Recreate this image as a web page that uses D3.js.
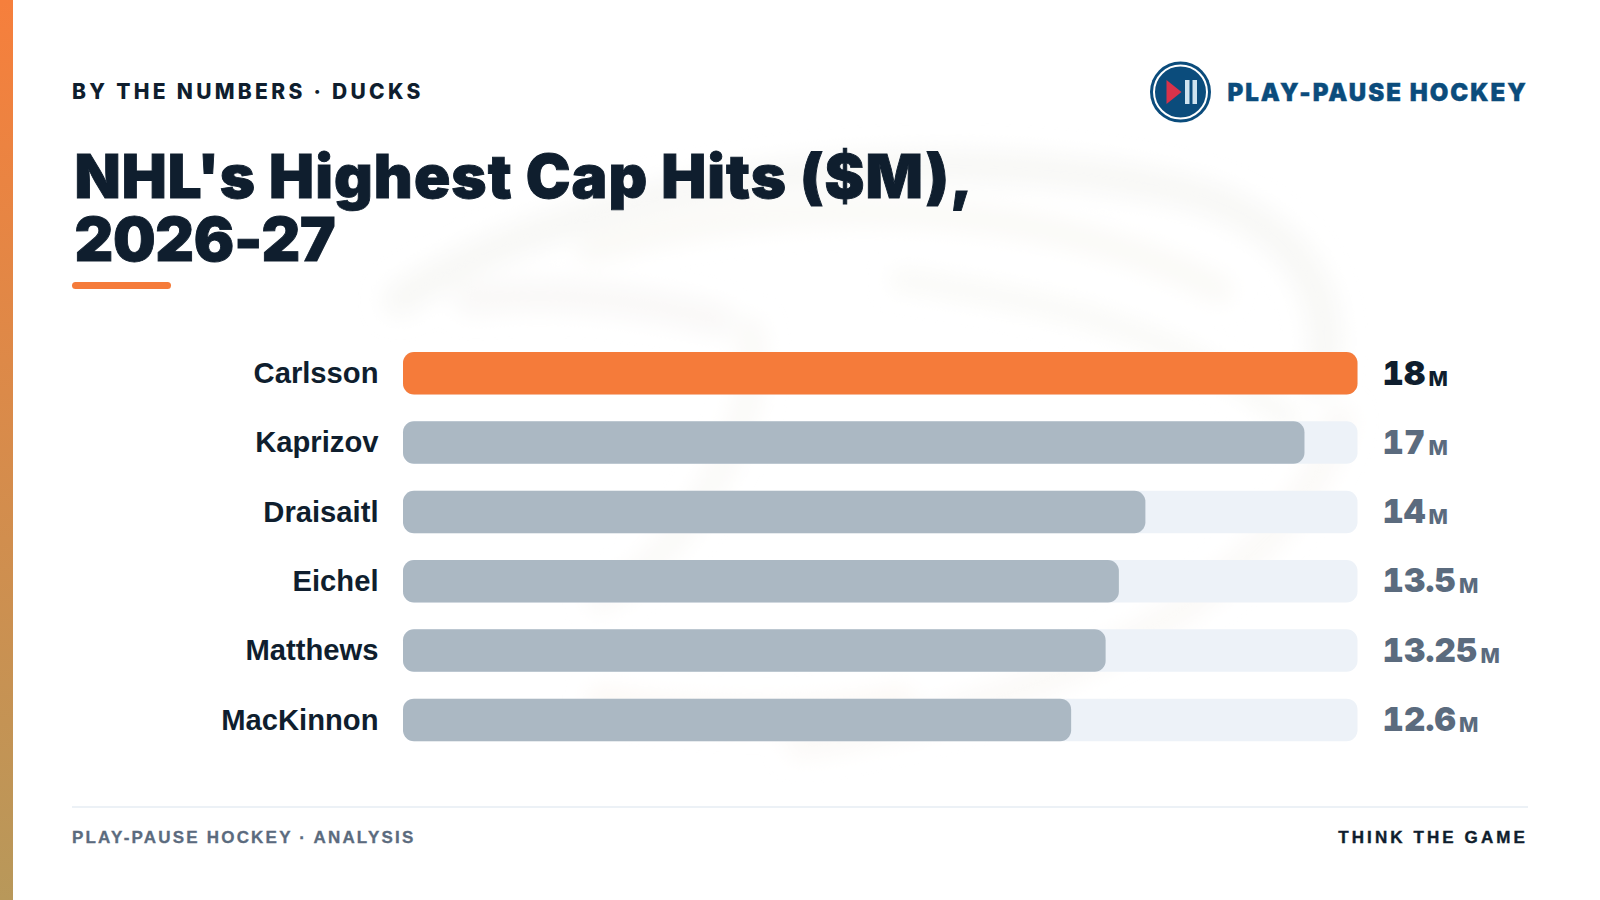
<!DOCTYPE html>
<html><head><meta charset="utf-8">
<script src="https://cdn.jsdelivr.net/npm/d3@7/dist/d3.min.js"></script>
<style>html,body{margin:0;padding:0;background:#fff;overflow:hidden}svg{display:block}</style>
</head><body><svg id="c" width="1600" height="900"></svg>
<script>
const players = ["Carlsson","Kaprizov","Draisaitl","Eichel","Matthews","MacKinnon"];
const capHits = [18,17,14,13.5,13.25,12.6];
const titleLines = ["NHL's Highest Cap Hits ($M),","2026-27"];
const eyebrow = "BY THE NUMBERS · DUCKS";
const brand = "PLAY-PAUSE HOCKEY";
const footLeft = "PLAY-PAUSE HOCKEY · ANALYSIS";
const footRight = "THINK THE GAME";

const ink="#0f1e2e", slate="#5b6b7e", orange="#f57b3a", grey="#abb8c3", track="#edf2f8", navy="#0b4c7c";
const F="Inter, 'Liberation Sans', sans-serif", L="'Liberation Sans', Arial, sans-serif";
const svg=d3.select("#c");
const defs=svg.append("defs");
const g=defs.append("linearGradient").attr("id","strip").attr("x1",0).attr("x2",0).attr("y1",0).attr("y2",1);
g.append("stop").attr("offset","0").attr("stop-color","#f67f3c");
g.append("stop").attr("offset","1").attr("stop-color","#b8985a");
defs.append("filter").attr("id","blur").attr("x","-20%").attr("y","-20%").attr("width","140%").attr("height","140%").append("feGaussianBlur").attr("stdDeviation",11);

svg.append("rect").attr("width",13).attr("height",900).attr("fill","url(#strip)");

// faint watermark
const wm=svg.append("g").attr("fill","none").attr("filter","url(#blur)").attr("stroke-linecap","round");
[["M400 300C560 190 900 130 1180 190C1300 220 1340 300 1320 380",34,"#f8f8f6"],
 ["M590 250C800 190 1050 200 1220 290",26,"#faf9f6"],
 ["M720 320C640 300 560 290 470 300",30,"#f9f8f7"],
 ["M750 330C770 420 680 560 600 600",26,"#faf9f7"],
 ["M900 280C1050 300 1180 330 1290 420",20,"#f9f9f6"],
 ["M1340 420C1300 560 1100 700 800 745",28,"#fbf9f7"],
 ["M600 700C700 720 820 720 900 700",26,"#fcf8f4"]].forEach(d=>{
  wm.append("path").attr("d",d[0]).attr("stroke-width",d[1]).attr("stroke",d[2]);
});

svg.append("text").text(eyebrow).attr("x",72).attr("y",99).attr("font-family",F).attr("font-weight",800).attr("font-size",21).attr("letter-spacing",3.3).attr("fill",ink);
svg.selectAll("text.t").data(titleLines).join("text").attr("class","t").text(d=>d)
  .attr("x",74.5).attr("y",(d,i)=>198+i*63).attr("font-family",F).attr("font-weight",900).attr("font-size",60)
  .attr("letter-spacing",(d,i)=>i==0?1.05:-0.3).attr("fill",ink).attr("stroke",ink).attr("stroke-width",0.9);
svg.append("rect").attr("x",72).attr("y",282).attr("width",99).attr("height",7).attr("rx",3.5).attr("fill",orange);

// logo
const logo=svg.append("g").attr("transform","translate(1180.5,92)");
logo.append("circle").attr("r",30.5).attr("fill",navy);
logo.append("circle").attr("r",26.5).attr("fill",navy).attr("stroke","#fff").attr("stroke-width",2);
logo.append("path").attr("d","M-14 -12L1 0L-14 12Z").attr("fill","#d8324a");
logo.append("rect").attr("x",4.5).attr("y",-12).attr("width",4.5).attr("height",24).attr("fill","#cfe3ef");
logo.append("rect").attr("x",12).attr("y",-12).attr("width",4.5).attr("height",24).attr("fill","#cfe3ef");
svg.append("text").text(brand).attr("x",1227.5).attr("y",100.5).attr("font-family",F).attr("font-weight",900).attr("font-size",24).attr("letter-spacing",2).attr("fill",navy).attr("stroke",navy).attr("stroke-width",0.4);

// chart
const pitch=69.33, barH=42.5;
const x=d3.scaleLinear().domain([0,18]).range([403,1357.5]);
const y=d3.scaleBand().domain(players).range([352,352+pitch*5+barH]).paddingInner(1-barH/pitch).paddingOuter(0).align(0);
const rows=svg.selectAll("g.r").data(players.map((p,i)=>({p,v:capHits[i],i}))).join("g").attr("class","r");
rows.append("rect").attr("x",x(0)).attr("y",d=>y(d.p)).attr("width",x(18)-x(0)).attr("height",y.bandwidth()).attr("rx",11).attr("fill",track);
rows.append("rect").attr("x",x(0)).attr("y",d=>y(d.p)).attr("width",d=>x(d.v)-x(0)).attr("height",y.bandwidth()).attr("rx",11).attr("fill",d=>d.i==0?orange:grey);
rows.append("text").text(d=>d.p).attr("x",378.5).attr("y",d=>y(d.p)+31).attr("text-anchor","end")
  .attr("font-family",L).attr("font-weight",700).attr("font-size",29.2).attr("fill",ink);
const vals=rows.append("text").attr("x",1382.5).attr("y",d=>y(d.p)+32.5).attr("font-family",F).attr("fill",d=>d.i==0?ink:slate).style("font-variant-numeric","tabular-nums");
vals.append("tspan").text(d=>d.v).attr("font-weight",900).attr("font-size",33).attr("letter-spacing",0.2);
vals.append("tspan").text("M").attr("dx",3).attr("font-weight",800).attr("font-size",20.5).attr("dy",1);

svg.append("line").attr("x1",72).attr("x2",1528).attr("y1",807).attr("y2",807).attr("stroke","#e6ecf3").attr("stroke-width",1.5);
svg.append("text").text(footLeft).attr("x",72).attr("y",843).attr("font-family",L).attr("font-weight",700).attr("font-size",17).attr("letter-spacing",2.2).attr("fill",slate).attr("stroke",slate).attr("stroke-width",0.3);
svg.append("text").text(footRight).attr("x",1528).attr("y",843).attr("text-anchor","end").attr("font-family",L).attr("font-weight",700).attr("font-size",17).attr("letter-spacing",3.1).attr("fill",ink).attr("stroke",ink).attr("stroke-width",0.4);
</script></body></html>
